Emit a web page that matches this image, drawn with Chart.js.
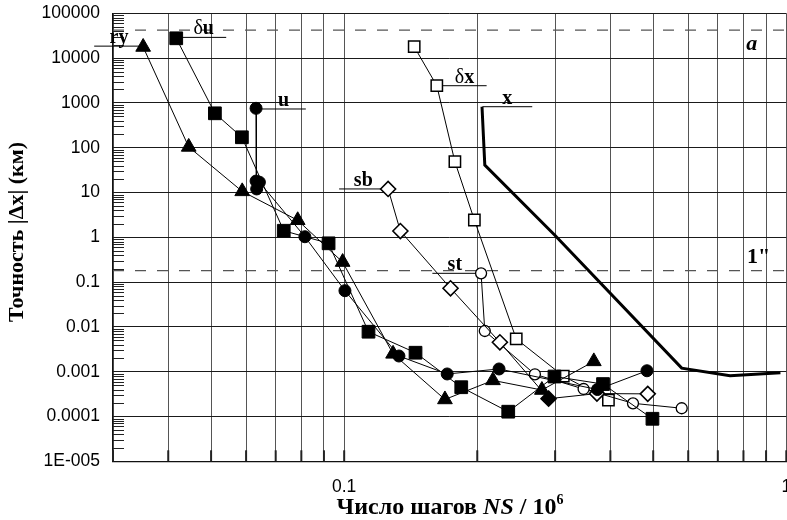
<!DOCTYPE html>
<html>
<head>
<meta charset="utf-8">
<script src="https://cdn.jsdelivr.net/npm/chart.js@4.4.1/dist/chart.umd.min.js"></script>
<style>
  html, body { margin: 0; padding: 0; background: #fff; overflow: hidden; }
  #wrap { position: relative; width: 800px; height: 520px; }
</style>
</head>
<body>
<div id="wrap"><canvas id="chart"></canvas></div>
<script>
// ticks
const xTicks = [0.03, 0.04, 0.05, 0.06, 0.07, 0.08, 0.09, 0.1, 0.2, 0.3, 0.4, 0.5, 0.6, 0.7, 0.8, 0.9, 1];
const xTickLabels = { '0.1': '0.1', '1': '1' };
const yDecades = [1e-5, 1e-4, 1e-3, 1e-2, 1e-1, 1, 10, 100, 1000, 10000, 100000];
const yDecadeLabels = ['1E-005', '0.0001', '0.001', '0.01', '0.1', '1', '10', '100', '1000', '10000', '100000'];
const yMinor = [2, 3, 4, 5, 6, 7, 8, 9];

// series (NS/10^6 , |dx| km)
const ryX = [0.0351, 0.0445, 0.0588, 0.0785, 0.0992, 0.129, 0.169, 0.217, 0.280, 0.367];
const ryY = [17700, 104, 10.6, 2.4, 0.28, 0.0025, 0.00024, 0.00064, 0.00039, 0.0017];

const duX = [0.0417, 0.051, 0.0587, 0.073, 0.0922, 0.1135, 0.145, 0.184, 0.235, 0.299, 0.385, 0.498];
const duY = [27700, 586, 171, 1.40, 0.734, 0.0078, 0.00265, 0.00045, 0.000128, 0.00078, 0.00053, 0.000089];

const uX = [0.0632, 0.0632, 0.0634, 0.0643, 0.0815, 0.1004, 0.133, 0.171, 0.224, 0.374, 0.484];
const uY = [757, 18, 12, 17, 1.03, 0.0643, 0.00224, 0.00089, 0.00115, 0.0004, 0.00105];

const sbX = [0.1257, 0.134, 0.174, 0.225, 0.29, 0.373, 0.486];
const sbY = [12.0, 1.38, 0.0728, 0.00453, 0.00025, 0.000325, 0.00032];
const sbFill = ['#fff', '#fff', '#fff', '#fff', '#000', '#fff', '#fff'];

const stX = [0.204, 0.208, 0.27, 0.348, 0.45, 0.58];
const stY = [0.157, 0.0081, 0.000875, 0.000411, 0.000197, 0.000153];

const dxX = [0.144, 0.162, 0.178, 0.197, 0.245, 0.313, 0.396];
const dxY = [18000, 2420, 48.7, 2.43, 0.0054, 0.0008, 0.000233];

const xX = [0.205, 0.208, 0.3, 0.58, 0.746, 0.97];
const xY = [822, 41, 1.1, 0.0012, 0.00081, 0.00095];

// reference levels: a and 1"
const levelA = 42000;
const levelArcsec = 0.18;

// series tags with leader lines
const tagText = ['ry', 'δu', 'u', 'sb', 'δx', 'x', 'st'];
const tagX1 = [0.0272, 0.0428, 0.0649, 0.0974, 0.1667, 0.2054, 0.1583];
const tagX2 = [0.0352, 0.0541, 0.0819, 0.1253, 0.21, 0.2663, 0.2];
const tagY = [18500, 29000, 731, 12, 2420, 822, 0.157];

const FONT_SANS = '"Liberation Sans", Arial, sans-serif';
const FONT_SERIF = '"Liberation Serif", "Times New Roman", serif';

const pts = (xs, ys) => xs.map((x, i) => ({ x, y: ys[i] }));

function series(data, style, radius, fill, borderW) {
  return {
    data, showLine: true, borderColor: '#000', borderWidth: 1,
    pointStyle: style, pointRadius: radius, pointHoverRadius: radius,
    pointBackgroundColor: fill, pointBorderColor: '#000', pointBorderWidth: borderW
  };
}

const datasets = [
  series(pts(ryX, ryY), 'triangle', 8.5, '#000', 1),
  series(pts(duX, duY), 'rect', 9, '#000', 1),
  series(pts(uX, uY), 'circle', 6, '#000', 1),
  series(pts(sbX, sbY), 'rectRot', 7.5, sbFill, 1.6),
  series(pts(stX, stY), 'circle', 5.5, '#fff', 1.3),
  series(pts(dxX, dxY), 'rect', 8, '#fff', 1.5),
  { data: pts(xX, xY), showLine: true, borderColor: '#000', borderWidth: 3, pointRadius: 0 },
  { data: [{ x: 0.03, y: levelA }, { x: 1, y: levelA }], showLine: true, borderColor: '#555', borderWidth: 1.2, borderDash: [11, 11], pointRadius: 0 },
  { data: [{ x: 0.03, y: levelArcsec }, { x: 1, y: levelArcsec }], showLine: true, borderColor: '#555', borderWidth: 1.2, borderDash: [11, 11], pointRadius: 0 }
];
tagText.forEach((t, i) => {
  datasets.push({ data: [{ x: tagX1[i], y: tagY[i] }, { x: tagX2[i], y: tagY[i] }], showLine: true, borderColor: '#000', borderWidth: 1, pointRadius: 0, clip: false });
});

function drawRich(ctx, parts, cx, baseY) {
  let total = 0;
  parts.forEach(p => { ctx.font = p.font; p.w = ctx.measureText(p.t).width; total += p.w; });
  let x = cx - total / 2;
  parts.forEach(p => {
    ctx.font = p.font;
    ctx.fillText(p.t, x, baseY + (p.dy || 0));
    x += p.w;
  });
}

const decor = {
  id: 'decor',
  afterDatasetsDraw(chart) {
    const { ctx, chartArea: a, scales: { x, y } } = chart;
    ctx.save();
    // minor y ticks inside the plot
    ctx.strokeStyle = '#222';
    ctx.lineWidth = 1;
    yDecades.slice(0, -1).forEach(d => {
      yMinor.forEach(m => {
        const py = Math.round(y.getPixelForValue(d * m)) + 0.5;
        ctx.beginPath(); ctx.moveTo(a.left, py); ctx.lineTo(a.left + 11, py); ctx.stroke();
      });
    });
    // heavier x ticks at the bottom
    ctx.lineWidth = 2;
    xTicks.forEach(v => {
      const px = x.getPixelForValue(v);
      ctx.beginPath(); ctx.moveTo(px, a.bottom); ctx.lineTo(px, a.bottom - 11); ctx.stroke();
    });

    // tags
    ctx.fillStyle = '#000';
    ctx.textBaseline = 'alphabetic';
    tagText.forEach((t, i) => {
      const cx = (x.getPixelForValue(tagX1[i]) + x.getPixelForValue(tagX2[i])) / 2;
      const by = y.getPixelForValue(tagY[i]) - 3;
      const parts = t.startsWith('δ')
        ? [{ t: 'δ', font: `20px ${FONT_SERIF}` }, { t: t.slice(1), font: `bold 20px ${FONT_SERIF}` }]
        : [{ t, font: `bold 20px ${FONT_SERIF}` }];
      drawRich(ctx, parts, cx, by);
    });
    ctx.font = `italic bold 22px ${FONT_SERIF}`;
    ctx.textBaseline = 'middle';
    ctx.textAlign = 'center';
    ctx.fillText('a', x.getPixelForValue(0.835), y.getPixelForValue(20000));
    ctx.font = `bold 22px ${FONT_SERIF}`;
    ctx.fillText('1"', x.getPixelForValue(0.866), y.getPixelForValue(0.35));

    // axis titles
    ctx.textAlign = 'left';
    ctx.textBaseline = 'alphabetic';
    drawRich(ctx, [
      { t: 'Число шагов ', font: `bold 24px ${FONT_SERIF}` },
      { t: 'NS', font: `italic bold 24px ${FONT_SERIF}` },
      { t: ' / 10', font: `bold 24px ${FONT_SERIF}` },
      { t: '6', font: `bold 14px ${FONT_SERIF}`, dy: -10 }
    ], 450, 514);
    ctx.translate(17, 232);
    ctx.rotate(-Math.PI / 2);
    ctx.textBaseline = 'middle';
    drawRich(ctx, [{ t: 'Точность |Δx| (км)', font: `bold 22px ${FONT_SERIF}` }], 0, 0);
    ctx.restore();
  }
};

new Chart(document.getElementById('chart'), {
  type: 'scatter',
  data: { datasets },
  options: {
    responsive: true,
    maintainAspectRatio: false,
    animation: false,
    events: [],
    layout: { padding: { top: 13.3, right: 13.7, bottom: 0, left: 0 } },
    plugins: { legend: { display: false }, tooltip: { enabled: false } },
    scales: {
      x: {
        type: 'logarithmic', position: 'bottom', min: 0.03, max: 1,
        afterBuildTicks: s => { s.ticks = xTicks.map(v => ({ value: v })); },
        afterFit: s => { s.height = 58.7; },
        ticks: {
          autoSkip: false, maxRotation: 0, padding: 0, color: '#000',
          font: { family: FONT_SANS, size: 17.5 },
          callback: v => xTickLabels[String(v)] || ''
        },
        grid: { color: '#555', lineWidth: 1, drawTicks: true, tickLength: 15, tickColor: 'rgba(0,0,0,0)' },
        border: { color: '#111', width: 1.2 }
      },
      y: {
        type: 'logarithmic', position: 'left', min: 1e-5, max: 1e5,
        afterBuildTicks: s => {
          const vals = [];
          yDecades.forEach((d, i) => {
            vals.push(d);
            if (i < yDecades.length - 1) yMinor.forEach(m => vals.push(d * m));
          });
          s.ticks = vals.map(v => ({ value: v }));
        },
        afterFit: s => { s.width = 113; },
        ticks: {
          autoSkip: false, padding: 0, color: '#000',
          font: { family: FONT_SANS, size: 17.5 },
          callback: v => { const i = yDecades.indexOf(v); return i >= 0 ? yDecadeLabels[i] : ''; }
        },
        grid: {
          drawTicks: true, tickLength: 13, tickColor: 'rgba(0,0,0,0)', lineWidth: 1,
          color: c => (c.tick && yDecades.indexOf(c.tick.value) >= 0) ? '#1a1a1a' : 'rgba(0,0,0,0)'
        },
        border: { color: '#111', width: 1.2 }
      }
    }
  },
  plugins: [decor]
});
</script>
</body>
</html>
